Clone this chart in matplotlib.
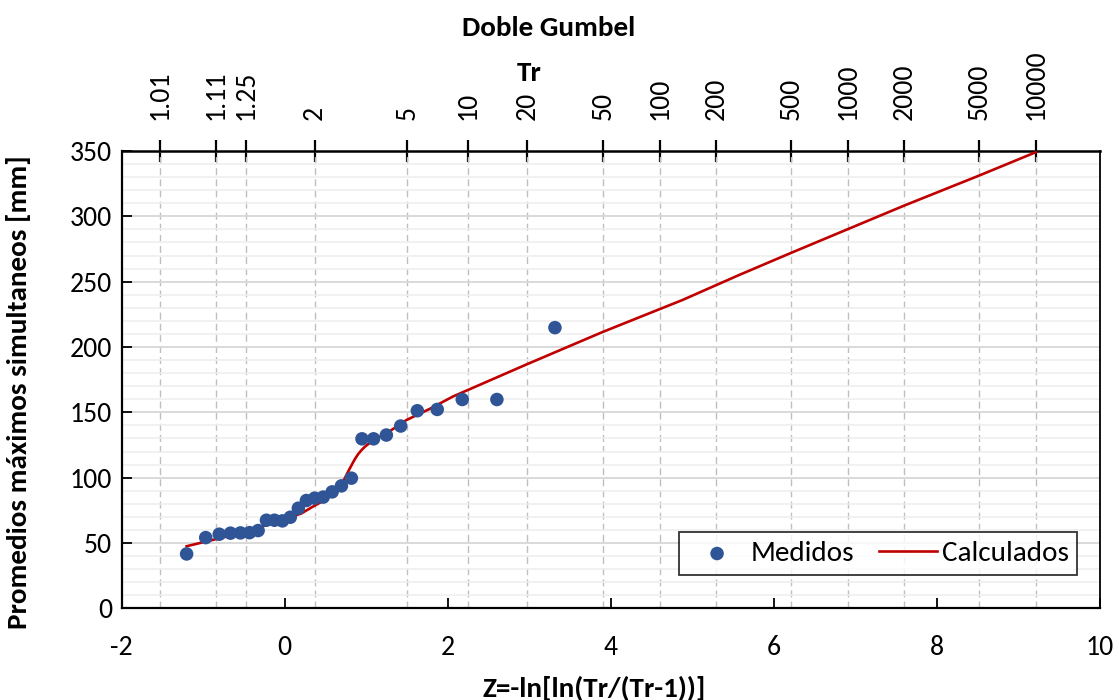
import numpy as np
import matplotlib
matplotlib.use("Agg")
import matplotlib.pyplot as plt
from matplotlib.ticker import MultipleLocator, FixedLocator

plt.rcParams['font.family'] = ['Carlito', 'Lato', 'DejaVu Sans']
plt.rcParams['axes.unicode_minus'] = False

# Measured points: Gumbel reduced variate Z and value [mm]
z_medidos = [-1.204, -0.970, -0.804, -0.666, -0.544, -0.432, -0.327, -0.225, -0.127,
             -0.029, 0.068, 0.166, 0.265, 0.367, 0.471, 0.581, 0.695, 0.817, 0.947,
             1.089, 1.246, 1.422, 1.626, 1.870, 2.177, 2.602, 3.314]
y_medidos = [41.6, 54.1, 56.7, 57.5, 57.7, 57.9, 59.5, 67.4, 67.4, 66.9, 69.7, 76.6,
             82.5, 84.3, 85.1, 89.1, 93.7, 99.6, 129.7, 129.7, 132.6, 139.5, 151.2,
             152.2, 159.8, 159.8, 214.8]

# Calculated (Doble Gumbel) curve
z_calc = [-1.204, -0.84, -0.47, -0.06, 0.20, 0.35, 0.48, 0.59, 0.66, 0.71, 0.74, 0.77,
          0.80, 0.83, 0.86, 0.90, 0.94, 0.98, 1.04, 1.14, 1.25, 1.49, 1.78, 2.06, 2.39,
          2.96, 3.90, 4.88, 5.57, 6.21, 6.90, 7.59, 8.51, 9.21]
y_calc = [47.5, 53.0, 58.7, 67.0, 72.5, 78.0, 82.5, 88.0, 92.0, 96.5, 100.0, 103.8,
          107.3, 110.8, 114.2, 118.0, 121.0, 123.5, 126.5, 130.5, 134.0, 144.0, 152.7,
          162.0, 171.0, 186.5, 211.5, 236.0, 255.0, 272.0, 290.0, 308.0, 331.0, 349.0]

# Return period ticks for top axis
tr_ticks = [1.01, 1.11, 1.25, 2, 5, 10, 20, 50, 100, 200, 500, 1000, 2000, 5000, 10000]
tr_labels = ['1.01', '1.11', '1.25', '2', '5', '10', '20', '50', '100', '200', '500',
             '1000', '2000', '5000', '10000']


def z2tr(z):
    z = np.asarray(z, dtype=float)
    with np.errstate(all='ignore'):
        p = 1.0 - np.exp(-np.exp(-z))
        return np.where(p > 0, 1.0 / np.maximum(p, 1e-300), 1e300)


def tr2z(tr):
    tr = np.asarray(tr, dtype=float)
    with np.errstate(all='ignore'):
        trc = np.maximum(tr, 1.0 + 1e-12)
        return -np.log(np.log(trc / (trc - 1.0)))


fig = plt.figure(figsize=(11.19, 7.0), dpi=100)
ax = fig.add_axes([0.1088, 0.131, 0.8742, 0.6533])

blue = '#2F5597'
red = '#C00000'

ax.set_xlim(-2, 10)
ax.set_ylim(0, 350)
ax.xaxis.set_major_locator(MultipleLocator(2))
ax.yaxis.set_major_locator(MultipleLocator(50))
ax.yaxis.set_minor_locator(MultipleLocator(10))
ax.xaxis.set_minor_locator(FixedLocator(list(tr2z(tr_ticks))))

ax.grid(which='major', axis='y', color='#d9d9d9', lw=1.4, zorder=0)
ax.grid(which='minor', axis='y', color='#efefef', lw=1.2, zorder=0)
ax.grid(which='minor', axis='x', color='#bfbfbf', lw=1.0, ls=(0, (5, 3)), zorder=0)
ax.set_axisbelow(True)

ax.plot(z_calc, y_calc, color=red, lw=1.9, zorder=3, label='Calculados')
ax.scatter(z_medidos, y_medidos, s=95, color=blue, zorder=4, label='Medidos',
           edgecolors='none')

ax.tick_params(axis='both', which='major', direction='in', length=7, width=1.3,
               labelsize=20, colors='black')
ax.tick_params(axis='x', which='major', pad=19)
ax.tick_params(axis='y', which='major', pad=7)
ax.tick_params(which='minor', length=0)
for s in ax.spines.values():
    s.set_linewidth(1.3)
    s.set_color('black')
ax.spines['top'].set_linewidth(1.8)
ax.spines['left'].set_linewidth(1.6)
ax.spines['bottom'].set_linewidth(1.6)

ax.set_xlabel('Z=-ln[ln(Tr/(Tr-1))]', fontsize=21, fontweight='bold', va='center')
ax.xaxis.set_label_coords(0.483, -0.175)
ax.set_ylabel('Promedios máximos simultaneos [mm]', fontsize=21, fontweight='bold')
ax.yaxis.set_label_coords(-0.093, 0.473)

sec = ax.secondary_xaxis('top', functions=(z2tr, tr2z))
sec.set_xticks(tr_ticks)
sec.set_xticklabels(tr_labels, rotation=90)
sec.xaxis.set_minor_locator(FixedLocator([]))
sec.tick_params(axis='x', which='major', direction='inout', length=16, width=1.6,
                labelsize=20, pad=14)
sec.spines['top'].set_visible(False)

fig.text(0.473, 0.896, 'Tr', fontsize=21, fontweight='bold', ha='center', va='center')
fig.text(0.490, 0.960, 'Doble Gumbel', fontsize=21, fontweight='bold', ha='center',
         va='center')

handles, labels = ax.get_legend_handles_labels()
order = [labels.index('Medidos'), labels.index('Calculados')]
leg = ax.legend([handles[i] for i in order], [labels[i] for i in order], ncol=2,
                loc='lower right', bbox_to_anchor=(0.977, 0.073), borderaxespad=0,
                fontsize=21, frameon=True, fancybox=False, edgecolor='black',
                handlelength=2.0, columnspacing=0.85, handletextpad=0.15,
                borderpad=0.3, scatterpoints=1)
leg.get_frame().set_linewidth(1.3)

fig.savefig('out.png', dpi=100)
